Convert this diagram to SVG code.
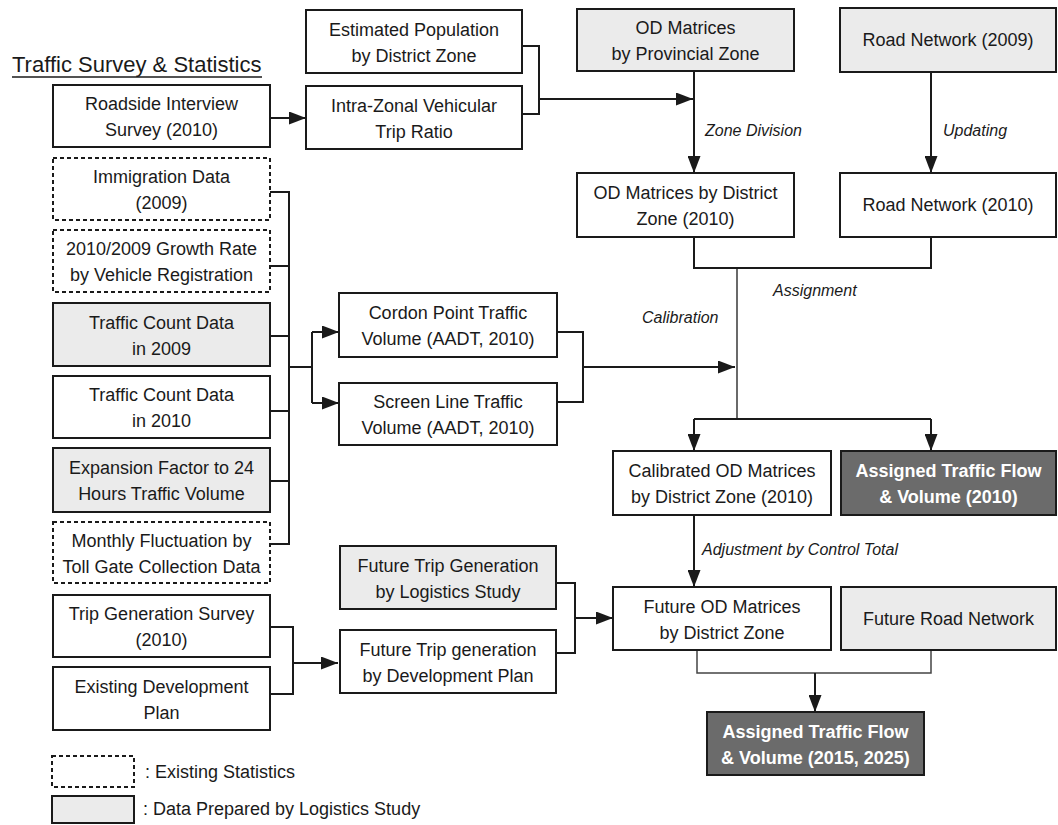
<svg xmlns="http://www.w3.org/2000/svg" width="1058" height="825" viewBox="0 0 1058 825">
<style>
.b{fill:#fff;stroke:#1a1a1a;stroke-width:2}
.g{fill:#ebebeb;stroke:#1a1a1a;stroke-width:2}
.d{fill:#fff;stroke:#1a1a1a;stroke-width:2;stroke-dasharray:4 3}
.k{fill:#6b6b6b;stroke:#1a1a1a;stroke-width:2}
.t{font-family:"Liberation Sans",Arial,sans-serif;font-size:18px;fill:#1a1a1a;text-anchor:middle}
.w{font-family:"Liberation Sans",Arial,sans-serif;font-size:18px;font-weight:bold;fill:#fff;text-anchor:middle}
.l{font-family:"Liberation Sans",Arial,sans-serif;font-size:16px;font-style:italic;fill:#1a1a1a}
.c{fill:none;stroke:#1a1a1a;stroke-width:2}
.a{marker-end:url(#ah)}
</style>
<defs>
<marker id="ah" markerUnits="userSpaceOnUse" viewBox="0 0 17 13" markerWidth="17" markerHeight="13" refX="17" refY="6.5" orient="auto"><path d="M0,0 L17,6.5 L0,13 z" fill="#1a1a1a"/></marker>
</defs>
<rect width="1058" height="825" fill="#fff"/>

<g id="title">
<text x="12" y="72" style="font-family:'Liberation Sans',Arial,sans-serif;font-size:22px;fill:#1a1a1a">Traffic Survey &amp; Statistics</text>
<line x1="12" y1="77" x2="262" y2="77" stroke="#1a1a1a" stroke-width="1.5"/>
</g>

<g id="connectors">
<path class="c a" d="M270,118 H306"/>
<path class="c" d="M522,46 H539 V114 H522"/>
<path class="c a" d="M539,99 H693"/>
<path class="c a" d="M694,71 V173"/>
<path class="c a" d="M931,72 V173"/>
<path class="c" d="M694,237 V268 H931 V237"/>
<path class="c" style="stroke-width:1.3" d="M737,268 V419"/>
<path class="c" d="M694,419 H931"/>
<path class="c a" d="M694,419 V451"/>
<path class="c a" d="M931,419 V451"/>
<path class="c" d="M270,192 H289 M270,266 H289 M270,336 H289 M270,411 H289 M270,481 H289 M270,544 H289 M289,191 V545 M289,367 H312 M312,332 V403"/>
<path class="c a" d="M312,332 H339"/>
<path class="c a" d="M312,403 H339"/>
<path class="c" d="M557,332 H583 V402 H557"/>
<path class="c a" d="M583,367 H735"/>
<path class="c a" d="M694,515 V587"/>
<path class="c" d="M270,627 H293 V694 H270"/>
<path class="c a" d="M293,663 H338"/>
<path class="c" d="M556,583 H575 V653 H556"/>
<path class="c a" d="M575,618 H613"/>
<path class="c" style="stroke:#444;stroke-width:1.5" d="M697,650 V673 H931 V650"/>
<path class="c a" d="M815,673 V712"/>
<text class="l" x="705" y="136">Zone Division</text>
<text class="l" x="943" y="136">Updating</text>
<text class="l" x="773" y="296">Assignment</text>
<text class="l" x="642" y="323">Calibration</text>
<text class="l" x="702" y="555">Adjustment by Control Total</text>
</g>

<g id="n-roadside"><rect class="b" x="53" y="85" width="217" height="62"/><text class="t" x="161.5" y="110">Roadside Interview</text><text class="t" x="161.5" y="136">Survey (2010)</text></g>
<g id="n-immigration"><rect class="d" x="53" y="158" width="217" height="62"/><text class="t" x="161.5" y="183">Immigration Data</text><text class="t" x="161.5" y="209">(2009)</text></g>
<g id="n-growth"><rect class="d" x="53" y="230" width="217" height="62"/><text class="t" x="161.5" y="255">2010/2009 Growth Rate</text><text class="t" x="161.5" y="281">by Vehicle Registration</text></g>
<g id="n-tc2009"><rect class="g" x="53" y="303" width="217" height="63"/><text class="t" x="161.5" y="328.5">Traffic Count Data</text><text class="t" x="161.5" y="354.5">in 2009</text></g>
<g id="n-tc2010"><rect class="b" x="53" y="376" width="217" height="62"/><text class="t" x="161.5" y="401">Traffic Count Data</text><text class="t" x="161.5" y="427">in 2010</text></g>
<g id="n-expansion"><rect class="g" x="53" y="448" width="217" height="64"/><text class="t" x="161.5" y="474">Expansion Factor to 24</text><text class="t" x="161.5" y="500">Hours Traffic Volume</text></g>
<g id="n-monthly"><rect class="d" x="53" y="522" width="217" height="61"/><text class="t" x="161.5" y="546.5">Monthly Fluctuation by</text><text class="t" x="161.5" y="572.5">Toll Gate Collection Data</text></g>
<g id="n-tripgen"><rect class="b" x="53" y="595" width="217" height="62"/><text class="t" x="161.5" y="620">Trip Generation Survey</text><text class="t" x="161.5" y="646">(2010)</text></g>
<g id="n-existdev"><rect class="b" x="53" y="667" width="217" height="63"/><text class="t" x="161.5" y="692.5">Existing Development</text><text class="t" x="161.5" y="718.5">Plan</text></g>

<g id="n-estpop"><rect class="b" x="306" y="10" width="216" height="63"/><text class="t" x="414" y="35.5">Estimated Population</text><text class="t" x="414" y="61.5">by District Zone</text></g>
<g id="n-intrazonal"><rect class="b" x="306" y="86" width="216" height="63"/><text class="t" x="414" y="111.5">Intra-Zonal Vehicular</text><text class="t" x="414" y="137.5">Trip Ratio</text></g>
<g id="n-odprov"><rect class="g" x="577" y="9" width="217" height="62"/><text class="t" x="685.5" y="34">OD Matrices</text><text class="t" x="685.5" y="60">by Provincial Zone</text></g>
<g id="n-road2009"><rect class="g" x="840" y="8" width="216" height="64"/><text class="t" x="948" y="46">Road Network (2009)</text></g>
<g id="n-oddist"><rect class="b" x="577" y="173" width="217" height="64"/><text class="t" x="685.5" y="199">OD Matrices by District</text><text class="t" x="685.5" y="225">Zone (2010)</text></g>
<g id="n-road2010"><rect class="b" x="840" y="173" width="216" height="64"/><text class="t" x="948" y="211">Road Network (2010)</text></g>
<g id="n-cordon"><rect class="b" x="339" y="293" width="218" height="64"/><text class="t" x="448" y="319">Cordon Point Traffic</text><text class="t" x="448" y="345">Volume (AADT, 2010)</text></g>
<g id="n-screen"><rect class="b" x="339" y="383" width="218" height="62"/><text class="t" x="448" y="408">Screen Line Traffic</text><text class="t" x="448" y="434">Volume (AADT, 2010)</text></g>
<g id="n-calib"><rect class="b" x="613" y="451" width="218" height="64"/><text class="t" x="722" y="477">Calibrated OD Matrices</text><text class="t" x="722" y="503">by District Zone (2010)</text></g>
<g id="n-assigned2010"><rect class="k" x="841" y="451" width="215" height="64"/><text class="w" x="948.5" y="477">Assigned Traffic Flow</text><text class="w" x="948.5" y="503">&amp; Volume (2010)</text></g>
<g id="n-futlog"><rect class="g" x="340" y="546" width="216" height="63"/><text class="t" x="448" y="571.5">Future Trip Generation</text><text class="t" x="448" y="597.5">by Logistics Study</text></g>
<g id="n-futdev"><rect class="b" x="340" y="630" width="216" height="63"/><text class="t" x="448" y="655.5">Future Trip generation</text><text class="t" x="448" y="681.5">by Development Plan</text></g>
<g id="n-futod"><rect class="b" x="613" y="587" width="218" height="63"/><text class="t" x="722" y="612.5">Future OD Matrices</text><text class="t" x="722" y="638.5">by District Zone</text></g>
<g id="n-futroad"><rect class="g" x="841" y="587" width="215" height="63"/><text class="t" x="948.5" y="624.5">Future Road Network</text></g>
<g id="n-assigned2015"><rect class="k" x="707" y="712" width="217" height="63"/><text class="w" x="815.5" y="737.5">Assigned Traffic Flow</text><text class="w" x="815.5" y="763.5">&amp; Volume (2015, 2025)</text></g>

<g id="legend">
<rect class="d" x="52" y="756" width="82" height="31"/>
<text x="145" y="778" style="font-family:'Liberation Sans',Arial,sans-serif;font-size:18px;fill:#1a1a1a">: Existing Statistics</text>
<rect class="g" x="52" y="796" width="82" height="27"/>
<text x="143" y="815" style="font-family:'Liberation Sans',Arial,sans-serif;font-size:18px;fill:#1a1a1a">: Data Prepared by Logistics Study</text>
</g>
</svg>
